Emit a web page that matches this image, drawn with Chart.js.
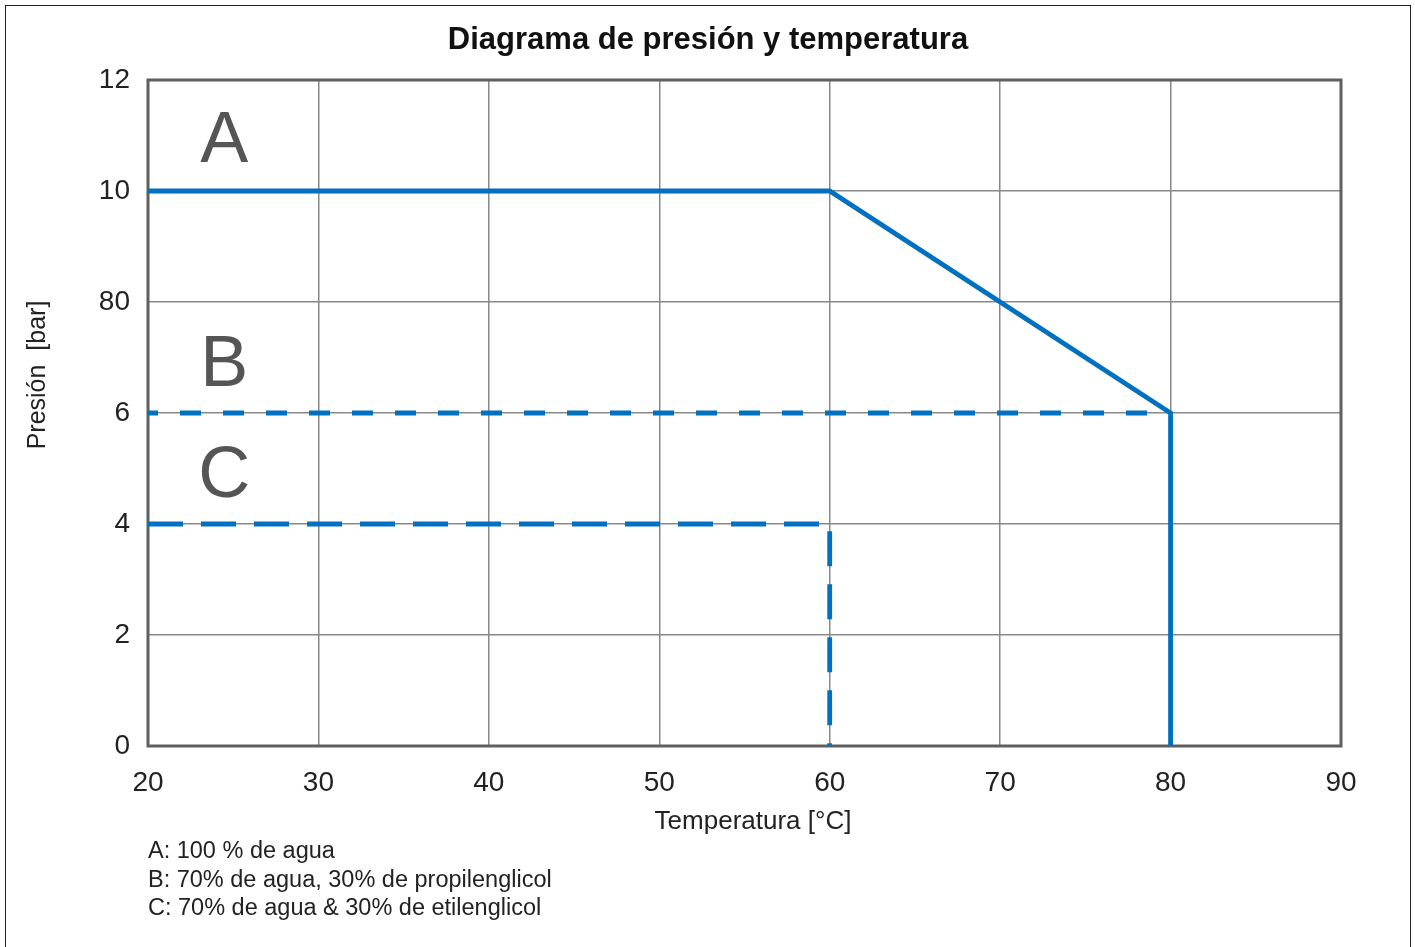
<!DOCTYPE html>
<html>
<head>
<meta charset="utf-8">
<script src="https://cdn.jsdelivr.net/npm/chart.js@4.4.1/dist/chart.umd.min.js"></script>
<style>
  body { margin: 0; background: #fff; overflow: hidden; }
  #marco { position: absolute; left: 5px; top: 5px; width: 1404px; height: 980px; border: 1.5px solid #222; }
  #grafico { position: absolute; left: 0; top: 0; }
</style>
</head>
<body>
<div id="marco"></div>
<canvas id="grafico" width="1415" height="947"></canvas>
<script>
const temperaturaA = [20, 60, 80, 80];
const presionA = [10, 10, 6, 0];
const temperaturaB = [20, 80];
const presionB = [6, 6];
const temperaturaC = [20, 60, 60];
const presionC = [4, 4, 0];

// Etiquetas de los ejes (el original pone "80" en lugar de 8)
const ticksX = [20, 30, 40, 50, 60, 70, 80, 90];
const ticksY = ['0', '2', '4', '6', '80', '10', '12'];

const titulo = 'Diagrama de presión y temperatura';
const tituloX = 'Temperatura [°C]';
const tituloY = 'Presión  [bar]';
const letras = ['A', 'B', 'C'];
const notas = [
  'A: 100 % de agua',
  'B: 70% de agua, 30% de propilenglicol',
  'C: 70% de agua & 30% de etilenglicol'
];

const fuente = '"Liberation Sans", Arial, sans-serif';
const azul = '#0070c0';

function puntos(xs, ys){
  return xs.map((x, i) => ({x: x, y: ys[i]}));
}

// Marco del area, letras y textos
const extras = {
  id: 'extras',
  beforeDatasetsDraw(chart){
    const {ctx, chartArea: a} = chart;
    ctx.save();
    ctx.strokeStyle = '#5f5f5f';
    ctx.lineWidth = 3;
    ctx.strokeRect(a.left, a.top, a.right - a.left, a.bottom - a.top);
    ctx.restore();
  },
  afterDraw(chart){
    const {ctx, chartArea: a, scales} = chart;
    const sx = scales.x, sy = scales.y;
    ctx.save();
    ctx.fillStyle = '#111';
    ctx.textAlign = 'center';
    ctx.textBaseline = 'middle';
    ctx.font = 'bold 31px ' + fuente;
    ctx.fillText(titulo, 708, 40);

    // letras de cada curva
    const posLetras = [10.88, 6.85, 4.85];
    ctx.fillStyle = '#555';
    ctx.font = '72px ' + fuente;
    letras.forEach((l, i) => {
      ctx.fillText(l, sx.getPixelForValue(24.47), sy.getPixelForValue(posLetras[i]));
    });

    ctx.fillStyle = '#222';
    ctx.font = '26px ' + fuente;
    ctx.fillText(tituloX, 753, 822);

    ctx.save();
    ctx.translate(38, 375);
    ctx.rotate(-Math.PI / 2);
    ctx.font = '25px ' + fuente;
    ctx.fillText(tituloY, 0, 0);
    ctx.restore();

    ctx.textAlign = 'left';
    ctx.font = '23.5px ' + fuente;
    notas.forEach((n, i) => {
      ctx.fillText(n, a.left, 852 + i * 28.5);
    });
    ctx.restore();
  }
};

new Chart(document.getElementById('grafico'), {
  type: 'scatter',
  data: {
    datasets: [
      {
        label: 'A',
        data: puntos(temperaturaA, presionA),
        showLine: true,
        borderColor: azul,
        borderWidth: 4.8,
        pointRadius: 0,
        borderJoinStyle: 'miter'
      },
      {
        label: 'B',
        data: puntos(temperaturaB, presionB),
        showLine: true,
        borderColor: azul,
        borderWidth: 4.8,
        borderDash: [21, 22],
        borderDashOffset: 11,
        pointRadius: 0
      },
      {
        label: 'C',
        data: puntos(temperaturaC, presionC),
        showLine: true,
        borderColor: azul,
        borderWidth: 4.8,
        borderDash: [35, 18],
        pointRadius: 0
      }
    ]
  },
  options: {
    responsive: false,
    animation: false,
    layout: { padding: { top: 80, right: 74, left: 0, bottom: 0 } },
    plugins: {
      legend: { display: false },
      tooltip: { enabled: false }
    },
    scales: {
      x: {
        type: 'linear',
        min: ticksX[0],
        max: ticksX[ticksX.length - 1],
        afterBuildTicks: (s) => { s.ticks = ticksX.map(v => ({value: v})); },
        afterFit: (s) => { s.height = 201; },
        grid: { color: '#888', lineWidth: 1.5, drawTicks: false },
        border: { display: false },
        ticks: { color: '#222', padding: 20, font: { family: fuente, size: 28 } }
      },
      y: {
        min: 0,
        max: 12,
        ticks: {
          stepSize: 2,
          color: '#222',
          padding: 18,
          font: { family: fuente, size: 28 },
          callback: (v) => ticksY[v / 2]
        },
        afterFit: (s) => { s.width = 148; },
        grid: { color: '#888', lineWidth: 1.5, drawTicks: false },
        border: { display: false }
      }
    }
  },
  plugins: [extras]
});
</script>
</body>
</html>
